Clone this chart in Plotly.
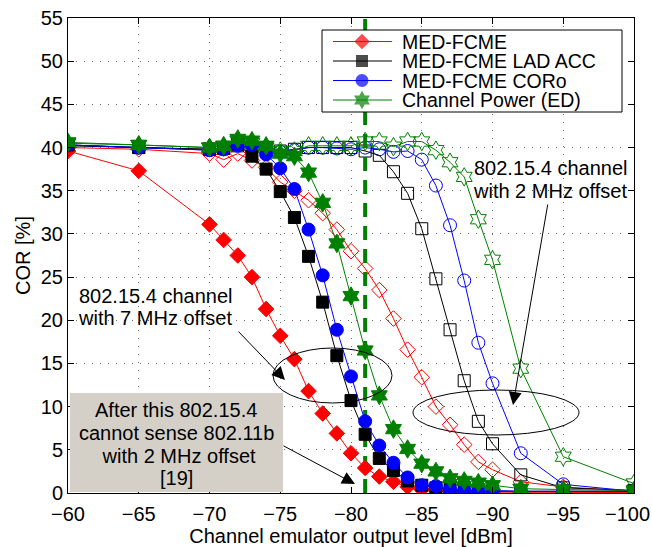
import plotly.graph_objects as go

x_dbm = [-60, -65, -70, -71, -72, -73, -74, -75, -76, -77, -78, -79, -80,
         -81, -82, -83, -84, -85, -86, -87, -88, -89, -90, -92, -95, -100]

# 802.15.4 channel with 7 MHz offset (filled markers)
fcme_7 = [39.6, 37.3, 31.1, 29.3, 27.5, 25.0, 21.3, 18.2, 15.5, 11.8, 9.2, 6.9, 4.6,
          2.9, 1.9, 1.3, 0.7, 0.4, 0.3, 0.2, 0.15, 0.1, 0.1, 0.1, 0.1, 0.05]
lad_7 = [40.3, 40.0, 39.8, 39.9, 40.4, 39.0, 37.5, 34.9, 31.9, 27.4, 22.1, 15.9, 10.7,
         6.8, 4.0, 2.6, 1.4, 0.9, 0.6, 0.4, 0.3, 0.3, 0.2, 0.2, 0.2, 0.2]
coro_7 = [40.3, 40.0, 39.7, 39.8, 40.3, 40.3, 39.2, 37.6, 35.2, 30.5, 25.2, 18.9, 13.5,
          8.3, 5.5, 3.5, 1.8, 0.9, 0.8, 0.4, 0.3, 0.3, 0.3, 0.2, 0.2, 0.2]
ed_7 = [40.6, 40.3, 40.0, 40.2, 41.0, 40.8, 40.2, 39.3, 39.0, 37.1, 33.6, 28.9, 22.8,
        16.5, 11.3, 7.4, 5.1, 3.4, 2.5, 1.7, 1.4, 1.2, 0.9, 0.5, 0.4, 0.3]

# 802.15.4 channel with 2 MHz offset (open markers)
fcme_2 = [40.0, 39.8, 39.3, 38.6, 39.3, 38.5, 37.7, 36.0, 35.0, 33.9, 32.4, 30.5, 28.0,
          26.0, 23.5, 20.2, 16.6, 13.4, 10.0, 7.9, 5.6, 3.6, 2.7, 1.3, 0.7, 0.2]
lad_2 = [40.2, 40.0, 39.8, 39.9, 40.2, 40.1, 40.0, 39.6, 39.8, 40.0, 40.0, 40.0, 40.0,
         39.6, 39.1, 37.2, 34.7, 30.6, 24.8, 18.9, 13.0, 8.3, 5.7, 2.1, 0.6, 0.3]
coro_2 = [40.3, 40.0, 39.7, 39.8, 40.2, 40.3, 40.0, 39.5, 39.7, 40.0, 40.0, 39.9, 39.8,
          40.0, 39.8, 39.5, 39.6, 38.6, 35.6, 31.0, 24.6, 17.4, 12.7, 4.6, 1.0, 0.2]
ed_2 = [40.5, 40.3, 40.0, 40.2, 40.8, 40.5, 40.0, 39.6, 39.6, 40.2, 40.2, 40.2, 40.2,
        40.7, 40.7, 40.1, 40.7, 40.7, 39.7, 38.3, 36.6, 31.7, 27.0, 14.4, 4.2, 1.1]

threshold_dbm = -81
names = ["MED-FCME", "MED-FCME LAD ACC", "MED-FCME CORo", "Channel Power (ED)"]
colors = ["#ff0000", "#000000", "#0000ff", "#008000"]
symbols = ["diamond", "square", "circle", "hexagram"]
sizes = [12, 12, 13, 14]

x_ticks = [-60, -65, -70, -75, -80, -85, -90, -95, -100]
x_ticktext = ["\u221260", "\u221265", "\u221270", "\u221275", "\u221280", "\u221285",
              "\u221290", "\u221295", ""]
last_tick_label = "\u2212100"
y_ticks = list(range(0, 56, 5))

FONT = "Liberation Sans, Arial, Helvetica, sans-serif"
FS = 20

# figure geometry (pixels)
W, H = 652, 547
L, R, T, B = 68, 634, 18, 493

fig = go.Figure()

open_series = [fcme_2, lad_2, coro_2, ed_2]
filled_series = [fcme_7, lad_7, coro_7, ed_7]

for ys, c, s, sz in zip(open_series, colors, symbols, sizes):
    fig.add_trace(go.Scatter(
        x=x_dbm, y=ys, mode="lines+markers", showlegend=False,
        line=dict(color=c, width=1),
        marker=dict(symbol=s + "-open", size=sz, color=c, line=dict(color=c, width=1)),
    ))

fig.add_trace(go.Scatter(
    x=[threshold_dbm, threshold_dbm], y=[0, 55], mode="lines", showlegend=False,
    line=dict(color="#008000", width=4, dash="14px,9px"),
))

for ys, n, c, s, sz in zip(filled_series, names, colors, symbols, sizes):
    fig.add_trace(go.Scatter(
        x=x_dbm, y=ys, mode="lines+markers", name=n, showlegend=False,
        line=dict(color=c, width=1),
        marker=dict(symbol=s, size=sz, color=c, line=dict(color=c, width=1)),
    ))

# ---- legend drawn on a pixel-coordinate overlay axis ----
box_l, box_r, box_t, box_b = 322, 622, 30, 112
row_y = [41.5, 61, 80.5, 100]
fig.add_trace(go.Scatter(
    x=[box_l, box_r, box_r, box_l, box_l], y=[box_t, box_t, box_b, box_b, box_t],
    xaxis="x2", yaxis="y2", mode="lines", fill="toself", fillcolor="white",
    line=dict(color="black", width=1), showlegend=False, hoverinfo="skip",
))
for ry, n, c, s, sz in zip(row_y, names, colors, symbols, sizes):
    fig.add_trace(go.Scatter(
        x=[333, 362, 392], y=[ry, ry, ry], xaxis="x2", yaxis="y2",
        mode="lines+markers", showlegend=False, hoverinfo="skip",
        line=dict(color=c, width=1),
        marker=dict(symbol=s, size=[0, sz, 0], color=c, line=dict(color=c, width=0)),
    ))
    fig.add_annotation(x=400, y=ry, xref="x2", yref="y2", xanchor="left", yanchor="middle",
                       text=n, showarrow=False,
                       font=dict(family=FONT, size=19.5, color="black"))

axis_common = dict(
    showline=True, linecolor="black", linewidth=1, mirror="allticks",
    ticks="inside", ticklen=6, tickcolor="black", automargin=False,
    showgrid=True, gridcolor="#6a6a6a", gridwidth=1, griddash="1px,7px",
    zeroline=False, tickfont=dict(family=FONT, size=FS, color="black"),
)

fig.update_layout(
    xaxis=dict(range=[-60, -100], tickmode="array", tickvals=x_ticks, ticktext=x_ticktext,
               ticklabelstandoff=3,
               title=dict(text="Channel emulator output level [dBm]",
                          font=dict(family=FONT, size=FS, color="black"), standoff=2),
               **axis_common),
    yaxis=dict(range=[0, 55], tickmode="array", tickvals=y_ticks,
               title=dict(text="COR [%]", font=dict(family=FONT, size=FS, color="black"),
                          standoff=4),
               **axis_common),
    xaxis2=dict(overlaying="x", range=[L, R], visible=False, fixedrange=True,
                automargin=False),
    yaxis2=dict(overlaying="y", range=[B, T], visible=False, fixedrange=True,
                automargin=False),
)

# last x tick label, nudged left so it stays inside the page (as in the reference)
fig.add_annotation(x=627, y=(B - 514) / (B - T), xref="x2", yref="paper",
                   text=last_tick_label, showarrow=False, yanchor="middle",
                   font=dict(family=FONT, size=FS, color="black"))

# ---- annotations (pixel coordinates on the overlay axis) ----
ann_font = dict(family=FONT, size=FS, color="black")

# gray note box
fig.add_shape(type="rect", xref="x2", yref="y2", x0=70, x1=283, y0=393, y1=492,
              fillcolor="#d4d0c8", line=dict(width=0), layer="above")
for ty, t in zip([410, 433, 456, 478],
                 ["After this 802.15.4", "cannot sense 802.11b", " with 2 MHz offset", "[19]"]):
    fig.add_annotation(x=176, y=ty, xref="x2", yref="y2", text=t, showarrow=False,
                       font=ann_font, yanchor="middle")
fig.add_annotation(x=355, y=484, ax=282, ay=445, xref="x2", yref="y2",
                   axref="x2", ayref="y2", text="", showarrow=True,
                   arrowhead=2, arrowsize=2.6, arrowwidth=1, arrowcolor="black")

# 7 MHz offset note
for ty, t in zip([296, 318], ["802.15.4 channel", "with 7 MHz offset"]):
    fig.add_annotation(x=155, y=ty, xref="x2", yref="y2", text=t, showarrow=False,
                       font=ann_font, yanchor="middle")
fig.add_annotation(x=285, y=380, ax=237, ay=330, xref="x2", yref="y2",
                   axref="x2", ayref="y2", text="", showarrow=True,
                   arrowhead=2, arrowsize=2.6, arrowwidth=1, arrowcolor="black")
fig.add_shape(type="circle", xref="x2", yref="y2", x0=273, x1=392, y0=348, y1=403,
              line=dict(color="black", width=1))

# 2 MHz offset note
for ty, t in zip([168, 191], ["802.15.4 channel", "with 2 MHz offset"]):
    fig.add_annotation(x=550, y=ty, xref="x2", yref="y2", text=t, showarrow=False,
                       font=ann_font, yanchor="middle")
fig.add_annotation(x=513, y=405, ax=548, ay=203, xref="x2", yref="y2",
                   axref="x2", ayref="y2", text="", showarrow=True,
                   arrowhead=2, arrowsize=2.6, arrowwidth=1, arrowcolor="black")
fig.add_shape(type="circle", xref="x2", yref="y2", x0=413, x1=579, y0=390, y1=435,
              line=dict(color="black", width=1))

fig.update_layout(
    width=W, height=H,
    margin=dict(l=L, r=W - R, t=T, b=H - B, autoexpand=False),
    paper_bgcolor="white", plot_bgcolor="white",
    font=dict(family=FONT, size=FS, color="black"),
    showlegend=False,
)

fig.write_html("out.html")
